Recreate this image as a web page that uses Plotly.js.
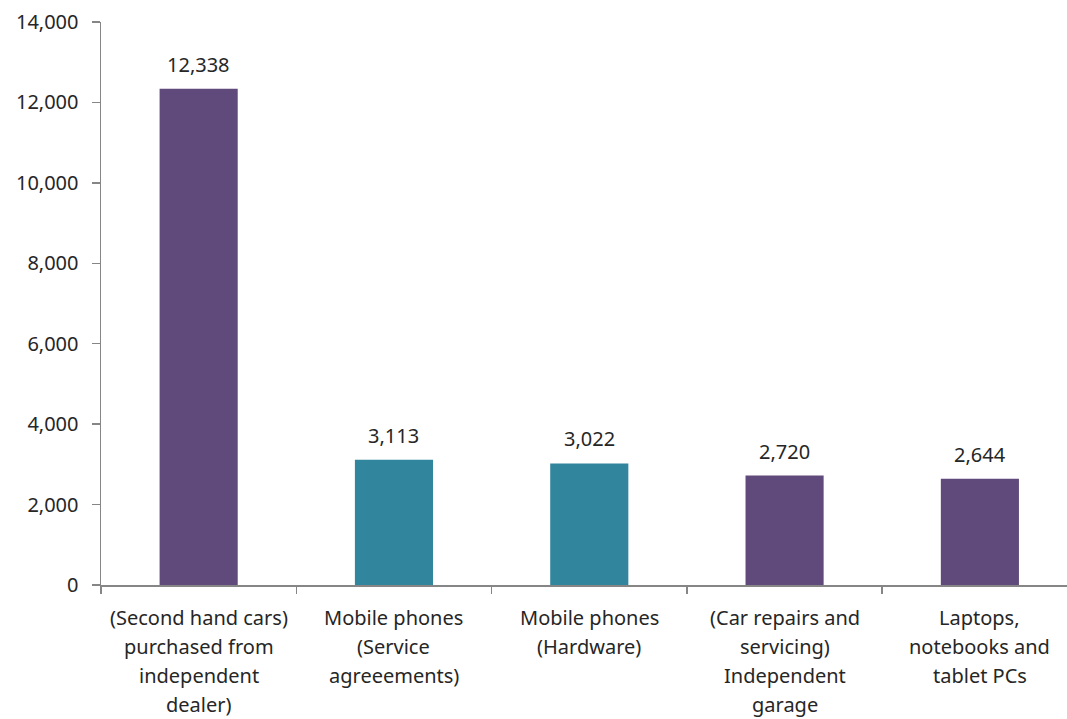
<!DOCTYPE html>
<html>
<head>
<meta charset="utf-8">
<script src="https://cdn.plot.ly/plotly-3.0.1.min.js"></script>
<style>
html,body{margin:0;padding:0;background:#fff;overflow:hidden;}
#chart{width:1067px;height:719px;}
</style>
</head>
<body>
<div id="chart"></div>
<script>
var categories = [
  "(Second hand cars)<br>purchased from<br>independent<br>dealer)",
  "Mobile phones<br>(Service<br>agreeements)",
  "Mobile phones<br>(Hardware)",
  "(Car repairs and<br>servicing)<br>Independent<br>garage",
  "Laptops,<br>notebooks and<br>tablet PCs"
];
var values = [12338, 3113, 3022, 2720, 2644];
var barColors = ["#604A7B", "#31859C", "#31859C", "#604A7B", "#604A7B"];
var yTicks = [0, 2000, 4000, 6000, 8000, 10000, 12000, 14000];

var FONT = "Noto Sans, Open Sans, sans-serif";
var TXT = "#262626";
var FS = 20;

var annotations = [];
values.forEach(function (v, i) {
  annotations.push({
    x: i, y: v, xref: "x", yref: "y",
    text: v.toLocaleString("en-US"),
    showarrow: false, yanchor: "bottom", yshift: 9,
    font: {family: FONT, size: FS, color: TXT}
  });
  categories[i].split("<br>").forEach(function (line, k) {
    annotations.push({
      x: i, y: 0, xref: "x", yref: "y",
      text: line, showarrow: false, yanchor: "middle",
      yshift: -32 - 29 * k,
      font: {family: FONT, size: FS, color: TXT}
    });
  });
});

Plotly.newPlot("chart", [{
  type: "bar",
  x: categories.map(function (c, i) { return i; }),
  y: values,
  width: 0.4,
  marker: {color: barColors},
  hoverinfo: "skip"
}], {
  width: 1067, height: 719,
  margin: {l: 101, r: 0, t: 22, b: 134},
  paper_bgcolor: "#ffffff",
  plot_bgcolor: "#ffffff",
  showlegend: false,
  xaxis: {
    type: "linear",
    range: [-0.5, 4.446],
    showgrid: false, zeroline: false,
    showline: true, linecolor: "#868686", linewidth: 1.5,
    tickmode: "array",
    tickvals: [-0.5, 0.5, 1.5, 2.5, 3.5, 4.5],
    ticks: "outside", ticklen: 7, tickcolor: "#868686", tickwidth: 1.5,
    showticklabels: false,
    fixedrange: true
  },
  yaxis: {
    range: [0, 14000],
    tickmode: "array",
    tickvals: yTicks,
    ticktext: yTicks.map(function (t) { return t.toLocaleString("en-US"); }),
    showgrid: false, zeroline: false,
    showline: true, linecolor: "#868686", linewidth: 1.5,
    ticks: "outside", ticklen: 8, tickcolor: "#868686", tickwidth: 1.5,
    ticklabelstandoff: 9,
    tickfont: {family: FONT, size: FS, color: TXT},
    fixedrange: true
  },
  annotations: annotations
}, {displayModeBar: false, staticPlot: true});
</script>
</body>
</html>
